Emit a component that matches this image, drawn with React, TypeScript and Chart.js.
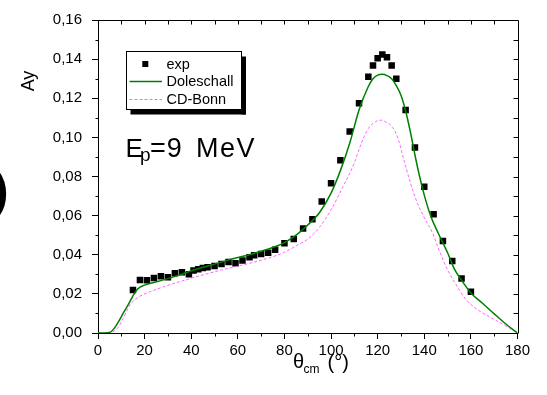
import React, { useEffect, useRef } from 'react';
import { Chart, registerables } from 'chart.js';
Chart.register(...registerables);

const FONT = 'Liberation Sans, Arial, sans-serif';

const expTheta = [15, 18, 21, 24, 27, 30, 33, 36, 39, 41, 43, 45, 47, 50, 53, 56, 59, 62, 65, 67, 70, 73, 76, 80, 84, 88, 92, 96, 100, 104, 108, 112, 116, 118, 120, 122, 124, 126, 128, 132, 136, 140, 144, 148, 152, 156, 160];
const expAy = [0.022, 0.0271, 0.027, 0.0281, 0.029, 0.0285, 0.0305, 0.031, 0.030, 0.0319, 0.0326, 0.0332, 0.0336, 0.0343, 0.0353, 0.0363, 0.0356, 0.037, 0.0387, 0.0397, 0.0404, 0.041, 0.0425, 0.0459, 0.048, 0.0534, 0.0582, 0.0672, 0.0766, 0.0883, 0.103, 0.1175, 0.131, 0.1367, 0.1405, 0.1424, 0.141, 0.1367, 0.130, 0.114, 0.0948, 0.0748, 0.0607, 0.047, 0.0368, 0.0278, 0.0211];

const doleschallTheta = [0, 5, 7, 9, 11, 13, 15, 17, 20, 24, 30, 35, 40, 45, 50, 55, 60, 65, 70, 75, 80, 85, 90, 95, 100, 104, 108, 112, 116, 118, 120, 122, 124, 126, 128, 130, 132, 134, 136, 138, 140, 143, 146, 150, 153, 156, 160, 165, 170, 175, 180];
const doleschallAy = [0, 0.0003, 0.0024, 0.0062, 0.0105, 0.0145, 0.019, 0.0225, 0.0245, 0.0258, 0.0278, 0.0297, 0.0318, 0.0336, 0.0352, 0.037, 0.0386, 0.04, 0.0418, 0.0437, 0.0462, 0.05, 0.0552, 0.0615, 0.0715, 0.083, 0.097, 0.114, 0.126, 0.13, 0.1318, 0.1323, 0.1316, 0.13, 0.1265, 0.1215, 0.1135, 0.103, 0.091, 0.08, 0.0705, 0.059, 0.051, 0.041, 0.0325, 0.027, 0.0205, 0.0152, 0.0098, 0.0046, 0];

const cdBonnTheta = [0, 5, 8, 10, 12, 14, 16, 18, 21, 25, 30, 35, 40, 45, 50, 55, 60, 65, 70, 75, 80, 85, 90, 95, 100, 105, 110, 113, 116, 119, 121.5, 124, 126.5, 129, 131, 134, 136.5, 140, 143.6, 146, 149.3, 153, 158, 163, 168, 174, 180];
const cdBonnAy = [0, 0.0002, 0.002, 0.0055, 0.0105, 0.0148, 0.0172, 0.0188, 0.0205, 0.0223, 0.0244, 0.0262, 0.028, 0.0297, 0.0313, 0.0328, 0.0342, 0.0356, 0.0372, 0.039, 0.0413, 0.0445, 0.048, 0.054, 0.063, 0.0745, 0.087, 0.097, 0.1045, 0.108, 0.1088, 0.1075, 0.105, 0.0985, 0.0895, 0.077, 0.068, 0.059, 0.051, 0.0435, 0.034, 0.026, 0.017, 0.0118, 0.0083, 0.0043, 0];

const xMinorTicks = [10, 30, 50, 70, 90, 110, 130, 150, 170];
const xTopTicks = [10, 20, 30, 40, 50, 60, 70, 80, 90, 100, 110, 120, 130, 140, 150, 160, 170];
const yMinorTicks = [0.01, 0.03, 0.05, 0.07, 0.09, 0.11, 0.13, 0.15];
const yRightTicks = [0.01, 0.02, 0.03, 0.04, 0.05, 0.06, 0.07, 0.08, 0.09, 0.1, 0.11, 0.12, 0.13, 0.14, 0.15];

const legendLabels = ['exp', 'Doleschall', 'CD-Bonn'];
const GREEN = '#008000';
const PINK = '#ff66ff';

const pts = (xs: number[], ys: number[]) => xs.map((x, i) => ({ x, y: ys[i] }));

const decor = {
  id: 'decor',
  afterDraw(chart: any) {
    const { ctx, chartArea: a, scales } = chart;
    const xs = scales.x;
    const ys = scales.y;
    const c = (v: number) => Math.round(v) + 0.5;
    ctx.save();
    ctx.setLineDash([]);
    ctx.strokeStyle = '#000';
    ctx.lineWidth = 1;
    ctx.beginPath();
    ctx.moveTo(c(a.left), c(a.top));
    ctx.lineTo(c(a.right), c(a.top));
    ctx.lineTo(c(a.right), c(a.bottom));
    xTopTicks.forEach((v) => {
      const x = c(xs.getPixelForValue(v));
      ctx.moveTo(x, c(a.top));
      ctx.lineTo(x, c(a.top) + 4);
    });
    yRightTicks.forEach((v) => {
      const y = c(ys.getPixelForValue(v));
      ctx.moveTo(c(a.right), y);
      ctx.lineTo(c(a.right) - 5, y);
    });
    xMinorTicks.forEach((v) => {
      const x = c(xs.getPixelForValue(v));
      ctx.moveTo(x, c(a.bottom));
      ctx.lineTo(x, c(a.bottom) + 3);
    });
    yMinorTicks.forEach((v) => {
      const y = c(ys.getPixelForValue(v));
      ctx.moveTo(c(a.left), y);
      ctx.lineTo(c(a.left) - 3, y);
    });
    ctx.stroke();

    ctx.fillStyle = '#000';
    ctx.textBaseline = 'alphabetic';
    ctx.textAlign = 'left';

    // Y axis title
    ctx.save();
    ctx.translate(33.5, 81);
    ctx.rotate(-Math.PI / 2);
    ctx.textAlign = 'center';
    ctx.font = `18px ${FONT}`;
    ctx.fillText('Ay', 0, 0);
    ctx.restore();

    // X axis title
    ctx.font = `20px ${FONT}`;
    ctx.fillText('θ', 293, 367.5);
    ctx.font = `12px ${FONT}`;
    ctx.fillText('cm', 303.5, 372.5);
    ctx.font = `20px ${FONT}`;
    ctx.fillText('(°)', 327.5, 368.5);

    // Energy label
    ctx.font = `26px ${FONT}`;
    ctx.fillText('E', 125.5, 157.3);
    ctx.font = `19px ${FONT}`;
    ctx.fillText('p', 140, 160.5);
    ctx.font = `27px ${FONT}`;
    (ctx as any).letterSpacing = '1px';
    ctx.fillText('=9', 150, 157.3);
    (ctx as any).letterSpacing = '1.5px';
    ctx.fillText('MeV', 196, 157.3);
    (ctx as any).letterSpacing = '0px';

    // left clipped glyph
    ctx.font = `bold 50px ${FONT}`;
    ctx.fillText(')', -8, 207);

    // legend
    const bx = 126.5, by = 51.5, bw = 115, bh = 58;
    ctx.fillStyle = '#ffffff';
    ctx.fillRect(bx, by, bw, bh);
    ctx.fillStyle = '#000000';
    ctx.fillRect(bx + bw, by + 5, 4.5, bh);
    ctx.fillRect(bx + 4, by + bh, bw + 0.5, 5);
    ctx.strokeStyle = '#000';
    ctx.lineWidth = 1;
    ctx.strokeRect(bx, by, bw, bh);
    ctx.fillRect(142.3, 61, 6, 6);
    ctx.strokeStyle = GREEN;
    ctx.lineWidth = 1.5;
    ctx.beginPath();
    ctx.moveTo(129.5, 81.5);
    ctx.lineTo(162, 81.5);
    ctx.stroke();
    ctx.strokeStyle = PINK;
    ctx.lineWidth = 1;
    ctx.setLineDash([3, 2]);
    ctx.beginPath();
    ctx.moveTo(129.5, 99.5);
    ctx.lineTo(162, 99.5);
    ctx.stroke();
    ctx.setLineDash([]);
    ctx.fillStyle = '#000';
    ctx.font = `14.5px ${FONT}`;
    ctx.textBaseline = 'middle';
    ctx.fillText(legendLabels[0], 166.5, 64.5);
    ctx.fillText(legendLabels[1], 166.5, 82);
    ctx.fillText(legendLabels[2], 166.5, 99.5);
    ctx.restore();
  },
};

export default function App() {
  const ref = useRef<HTMLCanvasElement | null>(null);
  useEffect(() => {
    if (!ref.current) return;
    const chart = new Chart(ref.current, {
      type: 'line',
      data: {
        datasets: [
          {
            label: legendLabels[0],
            data: pts(expTheta, expAy),
            showLine: false,
            pointStyle: 'rect',
            pointRadius: 4.6,
            pointBorderWidth: 0,
            pointBackgroundColor: '#000',
            borderColor: '#000',
            order: 3,
          },
          {
            label: legendLabels[1],
            data: pts(doleschallTheta, doleschallAy),
            borderColor: GREEN,
            borderWidth: 1.5,
            pointRadius: 0,
            cubicInterpolationMode: 'monotone',
            fill: false,
            order: 1,
          },
          {
            label: legendLabels[2],
            data: pts(cdBonnTheta, cdBonnAy),
            borderColor: PINK,
            borderWidth: 1,
            borderDash: [3, 2],
            pointRadius: 0,
            cubicInterpolationMode: 'monotone',
            fill: false,
            order: 2,
          },
        ],
      },
      options: {
        animation: false,
        responsive: false,
        maintainAspectRatio: false,
        devicePixelRatio: 1,
        layout: { padding: { left: 0, top: 20, right: 29.5, bottom: 0 } },
        plugins: { legend: { display: false }, tooltip: { enabled: false } },
        scales: {
          x: {
            type: 'linear',
            position: 'bottom',
            min: 0,
            max: 180,
            ticks: {
              stepSize: 20,
              color: '#000',
              font: { family: FONT, size: 15 },
              padding: 3,
              maxRotation: 0,
              autoSkip: false,
              callback: (v: any) => String(v),
            },
            grid: { drawOnChartArea: false, drawTicks: true, tickLength: 6, color: '#000', lineWidth: 1 },
            border: { display: true, color: '#000', width: 1 },
            afterFit: (s: any) => { s.height = 62; },
          },
          y: {
            type: 'linear',
            min: 0,
            max: 0.16,
            ticks: {
              stepSize: 0.02,
              color: '#000',
              font: { family: FONT, size: 15 },
              padding: 10,
              autoSkip: false,
              callback: (v: any) => Number(v).toFixed(2).replace('.', ','),
            },
            grid: { drawOnChartArea: false, drawTicks: true, tickLength: 6, color: '#000', lineWidth: 1 },
            border: { display: true, color: '#000', width: 1 },
            afterFit: (s: any) => { s.width = 98; },
          },
        },
      },
      plugins: [decor],
    } as any);
    return () => chart.destroy();
  }, []);
  return (
    <div style={{ position: 'absolute', left: 0, top: 0, width: 547, height: 395, background: '#fff' }}>
      <canvas ref={ref} width={547} height={395} style={{ width: 547, height: 395, display: 'block' }} />
    </div>
  );
}
